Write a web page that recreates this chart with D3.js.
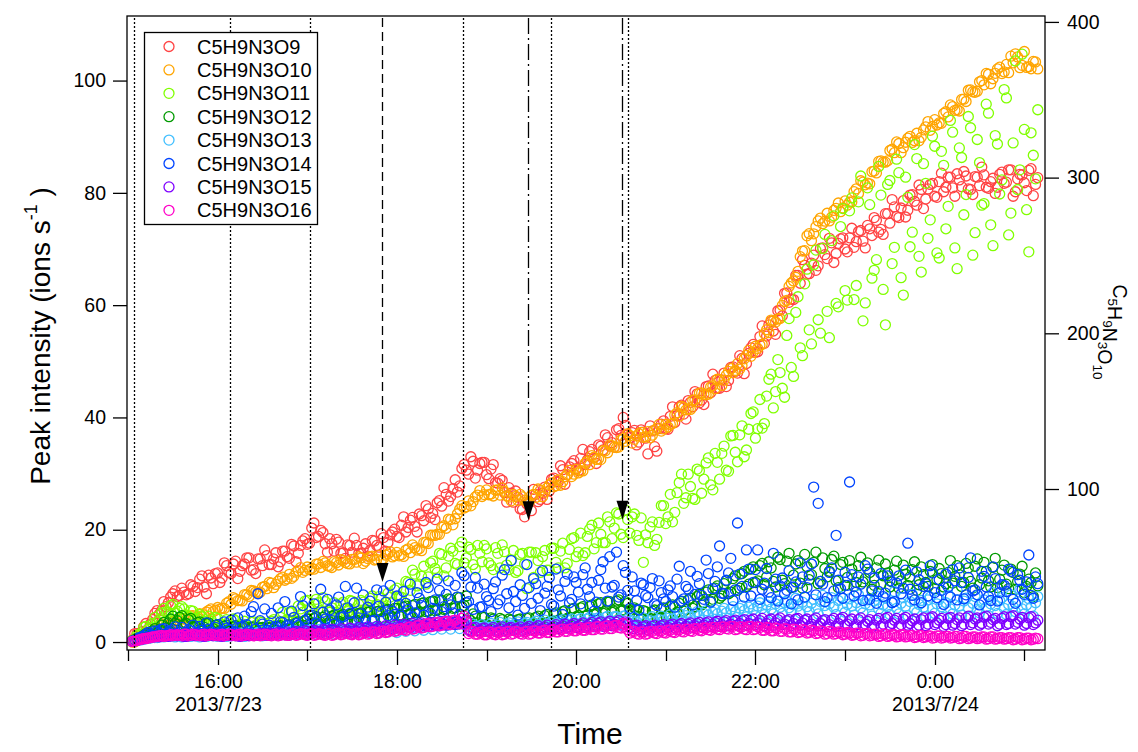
<!DOCTYPE html>
<html>
<head>
<meta charset="utf-8">
<script src="https://cdn.jsdelivr.net/npm/d3@7"></script>
<style>
  html, body { margin: 0; padding: 0; background: #fff; }
  svg { display: block; font-family: "Liberation Sans", Arial, sans-serif; }
</style>
</head>
<body>
<div id="chart"></div>
<script>
// readings every 3 minutes from 15:03 (arrays "a"), and the in-between readings 1.5 min later (arrays "b")
var startTime = new Date(2013, 6, 23, 15, 3);
var stepMinutes = 3;
var offsetMinutesB = 1.5;

var seriesNames = ["C5H9N3O9", "C5H9N3O10", "C5H9N3O11", "C5H9N3O12",
                   "C5H9N3O13", "C5H9N3O14", "C5H9N3O15", "C5H9N3O16"];

// C5H9N3O9, left axis (ions s-1)
var o9a = [0.4,1.5,1.8,3.3,3.2,5.1,5.0,7.2,7.0,8.6,
  8.1,9.6,8.4,10.2,9.0,11.2,9.8,11.9,10.4,12.3,
  11.4,13.6,12.2,14.4,12.6,13.9,15.0,12.9,14.8,13.6,
  15.4,13.8,15.9,14.3,16.2,14.9,17.1,15.8,18.0,17.4,
  20.3,18.6,19.9,17.5,18.4,16.2,17.8,15.9,17.3,16.0,
  17.2,15.8,17.5,16.3,18.0,16.9,18.6,17.7,19.6,18.8,
  20.8,19.6,21.7,20.6,22.8,21.6,23.7,22.9,24.8,24.2,
  26.3,25.9,28.9,27.8,31.6,29.9,32.2,30.6,32.0,29.8,
  30.8,28.4,29.1,26.6,27.5,24.9,25.8,23.6,24.6,23.4,
  26.3,25.4,27.6,26.9,29.2,28.5,30.7,29.8,31.8,30.9,
  32.7,31.6,33.9,32.8,35.1,34.2,36.4,35.5,37.8,36.8,
  38.6,36.4,37.7,35.6,37.4,33.5,37.6,34.0,38.8,38.0,
  40.2,39.1,41.9,40.6,43.0,41.9,44.2,43.1,45.5,44.4,
  46.6,45.2,47.9,46.6,49.0,47.9,50.5,49.6,52.4,51.6,
  54.4,53.2,56.5,55.4,59.0,58.1,62.2,61.1,65.3,63.9,
  67.1,65.6,68.9,67.0,70.2,68.3,71.1,69.2,71.8,70.0,
  72.0,70.3,73.1,71.4,74.2,72.4,75.1,73.5,76.3,74.6,
  77.5,75.6,78.6,76.9,79.7,77.8,80.6,78.9,81.5,79.4,
  82.0,80.2,82.8,80.9,83.4,81.1,83.0,80.6,82.9,81.3,
  83.2,80.8,82.6,81.0,83.7,81.9,84.1,80.2,83.3,81.8,
  84.0,79.5,82.7];
var o9b = [1.5,1.4,2.7,2.3,4.0,5.6,5.6,6.3,8.0,9.1,
  8.3,8.9,8.6,9.9,9.7,11.8,8.6,11.4,12.2,10.6,
  14.1,12.4,13.9,11.3,13.6,15.0,12.8,12.2,14.8,16.4,
  13.8,14.8,13.4,16.2,15.2,17.4,14.3,17.2,18.4,17.6,
  21.2,18.8,19.5,16.0,17.5,18.3,15.8,14.9,17.2,18.5,
  15.8,16.7,15.3,18.1,17.2,19.3,16.2,19.1,20.1,18.6,
  22.3,20.4,22.2,19.6,22.5,24.3,22.2,21.8,25.2,27.5,
  25.1,27.3,26.7,30.9,30.6,33.0,29.2,31.8,32.0,29.1,
  31.6,28.3,28.8,24.9,26.5,26.9,23.7,22.3,25.0,27.2,
  25.0,26.5,25.4,29.0,28.6,31.4,28.1,31.2,32.3,30.5,
  34.3,32.4,34.3,31.8,34.9,36.9,34.9,34.7,38.0,40.0,
  36.9,37.3,35.1,37.8,36.3,38.5,34.8,38.0,39.4,37.9,
  41.9,40.3,42.2,39.7,42.7,44.6,42.6,42.3,45.6,47.7,
  45.2,46.7,45.5,48.9,48.2,51.0,47.8,51.4,53.0,51.7,
  56.3,54.5,57.1,54.8,59.1,62.1,60.5,61.0,65.3,68.1,
  65.5,67.5,66.2,70.1,69.0,71.9,67.6,71.0,72.0,69.5,
  73.7,71.3,73.3,70.2,73.6,75.6,73.0,72.6,76.3,78.8,
  75.8,77.3,75.7,79.6,78.5,81.4,77.2,80.7,81.7,79.2,
  83.5,81.0,82.8,79.4,82.3,83.8,80.7,79.7,82.8,84.6,
  81.0,82.0,79.9,83.3,81.7,84.1,79.4,82.5,83.2,80.4,
  84.3,81.5];

// C5H9N3O10, right axis
var o10a = [1.6,4.1,4.5,7.3,7.5,10.4,10.3,12.9,12.2,14.8,
  14.2,16.7,15.8,18.5,17.3,19.9,19.1,22.0,21.2,23.9,
  23.4,26.7,26.0,29.5,28.5,32.2,31.0,34.5,33.5,36.9,
  36.0,39.6,38.7,42.4,41.4,45.2,43.9,47.6,46.5,49.9,
  49.1,51.8,49.6,52.5,50.4,53.4,51.2,54.0,52.1,54.8,
  53.0,55.7,53.6,56.5,54.4,57.4,55.3,58.2,56.4,59.3,
  57.8,60.8,59.1,62.3,61.6,65.7,65.0,70.4,71.0,75.3,
  74.8,80.4,80.9,87.0,87.8,92.4,91.9,96.1,95.2,99.4,
  96.8,99.2,96.1,98.4,94.8,96.5,92.7,94.9,91.8,95.9,
  94.6,99.1,98.0,102.5,101.4,105.8,104.7,109.2,108.0,112.6,
  111.7,116.5,115.6,120.4,119.5,124.6,123.3,127.9,126.6,131.6,
  130.6,134.2,131.9,135.5,133.2,136.9,134.6,138.9,137.2,141.6,
  141.5,147.6,146.8,152.3,151.4,157.0,156.0,161.7,160.5,165.6,
  164.4,170.3,169.8,175.6,174.7,180.5,179.3,185.8,185.2,191.7,
  192.4,199.8,200.5,208.0,209.2,217.9,221.1,232.3,236.0,249.2,
  253.1,264.0,263.9,272.2,270.4,277.1,274.6,280.3,278.1,285.0,
  284.2,291.0,289.8,297.1,296.5,303.8,303.0,310.7,309.9,317.4,
  316.0,321.9,319.2,325.3,322.6,328.5,325.9,332.6,330.4,337.2,
  335.1,341.2,339.0,345.6,343.6,350.2,348.9,356.3,354.8,361.5,
  359.6,366.4,363.5,369.8,366.8,372.7,378.0,379.5,370.6,381.0,
  371.2,374.6,369.8];
var o10b = [1.8,5.1,7.3,6.9,7.5,10.6,12.7,12.4,12.6,15.1,
  16.8,14.7,17.2,18.7,18.0,18.3,21.0,23.0,22.2,22.9,
  23.3,27.6,30.2,28.3,28.1,32.1,34.8,33.8,33.7,37.4,
  40.0,36.6,40.8,43.4,42.3,42.6,46.6,49.5,47.7,48.2,
  48.5,51.9,53.5,50.7,49.6,52.7,54.6,52.8,51.9,54.8,
  56.5,52.1,55.3,56.9,54.8,54.2,57.5,59.7,57.2,57.1,
  56.7,61.6,64.1,60.8,60.4,65.8,70.3,70.2,70.9,76.4,
  80.7,77.0,84.1,89.3,88.6,89.2,94.9,99.0,96.4,96.3,
  95.5,99.4,100.7,95.5,92.4,95.2,96.5,92.9,91.6,96.6,
  100.0,95.0,100.6,103.9,102.1,102.4,107.9,112.0,109.5,110.3,
  111.6,117.8,121.5,119.0,118.9,124.5,128.3,126.9,126.9,132.4,
  135.5,129.5,134.1,136.4,133.6,132.9,137.8,141.5,138.6,139.8,
  142.1,149.0,153.0,150.8,151.1,157.2,161.6,160.7,160.9,166.4,
  170.5,166.5,173.1,177.3,176.1,177.0,183.6,189.0,187.8,190.3,
  192.9,202.3,208.5,207.2,209.5,220.4,230.1,233.6,239.8,252.8,
  262.6,259.5,268.5,274.0,272.0,272.2,278.9,283.7,280.6,282.3,
  284.4,292.8,298.0,295.4,296.0,304.2,310.4,309.9,310.8,318.3,
  322.9,316.0,322.7,326.5,323.7,323.6,330.6,336.0,332.9,333.8,
  334.9,342.3,346.7,343.2,342.8,350.4,356.1,355.1,355.5,362.3,
  366.9,360.3,367.0,370.9,367.9,367.4,373.7,377.5,372.1,370.8,
  369.9,374.3];

// C5H9N3O11
var o11a = [0.3,1.2,1.3,2.8,2.6,4.4,4.0,6.0,5.3,6.7,
  5.5,6.3,4.8,5.6,4.1,4.9,3.7,4.6,3.4,4.2,
  3.1,4.0,2.9,3.8,2.7,3.7,2.6,3.6,2.5,3.5,
  2.6,3.7,3.0,4.4,3.6,5.3,4.3,6.4,5.3,7.4,
  5.8,7.6,5.6,7.2,5.3,7.0,5.2,7.1,5.4,7.3,
  5.5,7.4,5.7,7.8,6.0,8.1,6.4,8.7,7.0,9.6,
  8.0,10.8,9.2,12.1,10.3,13.5,11.6,14.4,12.4,15.6,
  13.2,16.7,14.0,17.0,14.1,16.9,13.8,17.2,14.3,16.6,
  13.6,16.8,13.2,16.1,12.9,16.3,12.7,15.8,9.5,16.0,
  15.9,12.4,16.3,12.8,16.7,13.2,17.6,14.0,18.4,15.2,
  19.4,15.9,20.1,16.6,21.2,17.7,22.3,18.4,23.0,19.2,
  23.5,19.4,22.8,18.1,14.2,17.7,21.4,18.3,24.3,21.1,
  26.3,23.1,28.4,24.7,29.9,25.6,30.8,26.5,31.9,28.0,
  33.6,29.0,34.9,30.4,36.8,32.1,38.5,34.2,40.7,36.3,
  43.2,38.9,46.8,41.7,50.3,45.2,54.6,48.9,58.7,52.4,
  63.8,55.6,67.2,57.4,70.1,58.9,71.5,60.3,74.0,62.6,
  76.8,61.0,78.4,57.2,80.9,64.8,68.1,79.6,56.5,82.2,
  70.3,83.6,61.8,79.2,73.0,86.1,65.9,81.7,75.2,88.3,
  68.4,84.9,77.6,90.8,66.5,86.3,79.7,91.6,72.9,85.4,
  78.1,94.2,70.6,88.7,82.3,96.9,76.4,103.5,84.1,91.3,
  69.5,86.7,94.8];
var o11b = [0.1,1.4,2.6,2.3,3.3,3.5,5.2,5.4,6.5,5.2,
  6.0,5.9,4.6,5.5,4.2,4.5,3.3,4.0,4.4,3.2,
  2.8,3.6,4.1,3.0,3.2,2.6,3.5,3.0,3.6,2.2,
  3.4,4.0,2.7,5.3,4.0,5.3,3.7,5.9,7.3,5.8,
  5.2,7.0,7.9,5.6,6.1,4.8,6.8,6.0,7.4,4.8,
  6.7,7.1,5.7,8.2,6.7,7.8,6.0,8.0,9.3,8.1,
  7.1,10.6,12.8,10.0,11.7,10.3,14.1,13.1,15.8,11.8,
  15.3,16.2,13.8,17.8,15.0,16.5,13.0,15.8,17.2,14.1,
  12.9,15.8,17.3,13.7,14.6,12.4,15.6,13.9,16.0,11.5,
  14.5,15.2,12.8,16.7,14.2,16.2,13.2,16.5,18.6,16.0,
  15.4,18.8,20.8,17.7,19.2,17.7,21.4,20.3,22.8,18.6,
  21.8,22.3,19.0,22.1,19.1,20.5,17.2,21.3,24.3,22.3,
  21.4,26.6,29.9,25.7,27.7,25.4,30.5,29.0,32.8,27.1,
  32.0,33.6,30.6,36.7,33.8,36.9,33.0,37.9,41.0,38.0,
  38.1,43.8,47.7,44.6,48.0,43.6,57.6,47.3,61.5,51.0,
  66.4,53.1,69.8,55.0,72.6,54.2,75.9,59.7,77.2,60.9,
  79.1,63.5,83.0,60.4,77.9,66.2,84.7,62.8,81.5,67.4,
  86.0,64.9,82.8,70.4,88.6,68.7,85.2,71.9,90.1,69.3,
  87.4,73.6,92.9,70.2,88.0,76.1,93.6,68.9,89.5,77.8,
  95.8,74.3,90.2,79.8,98.4,72.5,88.9,80.6,104.7,77.0,
  90.7,82.5];

// C5H9N3O12
var o12a = [0.2,0.7,0.9,1.5,1.5,2.4,2.2,3.5,3.4,4.6,
  3.8,4.7,3.3,4.2,2.9,3.6,2.6,3.4,2.4,3.1,
  2.2,3.0,2.0,2.9,1.9,2.8,1.8,2.7,1.8,2.6,
  1.8,2.7,2.0,2.9,2.2,3.1,2.6,3.6,3.0,4.1,
  3.4,4.5,3.5,4.7,3.6,4.8,3.7,4.9,3.8,5.1,
  3.9,5.2,4.0,5.4,4.1,5.5,4.3,5.8,4.5,6.0,
  4.8,6.4,5.0,6.7,5.3,7.0,5.5,7.3,5.7,7.4,
  5.9,7.6,6.1,7.9,6.5,4.2,5.0,3.4,4.5,3.1,
  4.3,3.0,4.2,2.9,4.1,2.8,4.0,3.0,4.2,3.2,
  4.4,3.3,4.7,3.6,5.0,3.9,5.4,4.2,5.8,4.5,
  6.1,4.6,6.4,4.9,6.8,5.1,7.1,5.3,7.3,5.5,
  7.2,5.6,6.1,4.5,5.6,4.1,5.5,4.3,5.9,4.6,
  6.3,5.0,6.9,5.5,7.5,6.0,8.1,6.6,8.9,7.3,
  9.6,7.8,10.4,8.6,11.3,9.2,12.2,9.9,13.0,10.6,
  13.6,10.2,14.3,10.8,15.1,11.0,14.4,9.7,13.9,10.5,
  15.6,11.1,14.2,10.4,15.0,11.6,14.7,10.9,13.8,10.1,
  14.5,9.9,13.6,10.7,14.1,9.4,13.2,10.3,13.9,9.8,
  12.8,9.6,13.7,10.1,12.9,9.2,13.4,10.6,12.6,9.5,
  13.1,9.8,12.4,10.5,13.6,9.9,14.0,10.8,13.5,10.2,
  14.2,10.9,13.3,9.7,12.8,10.3,13.0,9.4,12.1,8.8,
  11.2,8.1,10.0];
var o12b = [0.4,0.6,1.2,1.0,2.0,1.6,3.0,2.5,4.1,3.3,
  4.4,3.2,4.0,2.7,3.5,2.4,3.3,2.2,3.0,2.0,
  2.8,1.9,2.7,1.7,2.6,1.6,2.6,1.7,2.5,1.7,
  2.5,1.9,2.8,2.1,3.0,2.4,3.4,2.8,3.8,3.3,
  4.2,3.2,4.4,3.3,4.6,3.5,4.7,3.6,4.9,3.7,
  5.1,3.8,5.3,3.9,5.4,4.1,5.7,4.3,6.0,4.7,
  6.2,4.9,6.5,5.2,6.9,5.4,7.2,5.6,7.5,5.8,
  7.7,6.0,8.0,6.3,8.2,3.8,4.6,3.1,4.4,2.9,
  4.1,2.8,4.0,2.7,3.9,2.9,4.1,3.1,4.3,3.4,
  4.6,3.5,4.9,3.8,5.2,4.1,5.6,4.4,6.0,4.7,
  6.3,4.8,6.6,5.0,7.0,5.2,7.2,5.4,7.5,5.7,
  6.9,5.0,5.8,4.3,5.4,4.2,5.7,4.4,6.1,4.9,
  6.6,5.3,7.2,5.8,7.8,6.3,8.5,7.0,9.3,7.6,
  10.0,8.2,10.9,8.9,11.8,9.6,12.6,10.3,13.4,10.9,
  14.0,11.6,13.2,9.8,14.7,10.4,15.8,11.9,14.5,9.6,
  13.4,12.0,16.0,10.8,13.1,12.6,15.3,9.7,14.2,11.5,
  13.0,10.6,15.1,11.3,12.4,10.1,14.6,11.8,12.3,10.7,
  14.4,10.9,12.1,11.6,14.3,10.2,12.0,9.9,13.8,11.1,
  12.2,10.4,14.5,11.7,12.0,10.6,13.2,9.6,14.8,11.4,
  12.6,9.8,14.9,11.2,13.7,9.5,12.4,10.8,13.5,9.9,
  10.6,12.3];

// C5H9N3O13
var o13a = [0.1,0.3,0.4,0.6,0.7,0.8,1.0,0.9,1.2,1.0,
  1.3,0.9,1.4,1.0,1.5,0.9,1.4,1.1,1.6,1.0,
  1.5,1.0,1.7,1.1,1.6,1.0,1.8,1.2,1.7,1.1,
  1.9,1.2,1.8,1.3,2.0,1.2,2.1,1.4,2.2,1.3,
  2.1,1.4,2.3,1.5,2.2,1.4,2.4,1.6,2.3,1.5,
  2.5,1.6,2.4,1.7,2.6,1.6,2.5,1.8,2.7,1.7,
  2.8,1.9,3.0,2.0,3.1,2.1,3.3,2.2,3.4,2.3,
  3.5,2.3,3.6,2.4,3.4,2.1,3.2,2.0,3.1,2.2,
  3.3,2.1,3.5,2.2,3.4,2.3,3.6,2.2,3.5,2.4,
  3.7,2.5,3.9,2.6,3.8,2.4,4.0,2.7,4.1,2.6,
  4.2,2.8,4.4,2.9,4.3,3.0,4.6,3.1,4.5,3.2,
  4.7,3.3,4.4,2.9,4.3,2.8,4.5,3.0,4.6,3.1,
  4.9,3.3,5.1,3.5,5.3,3.6,5.4,3.8,5.6,3.9,
  5.8,4.0,6.0,4.2,6.3,4.4,6.5,4.5,6.8,4.7,
  7.0,4.9,7.2,5.0,7.5,5.1,7.3,5.3,7.8,5.2,
  8.0,5.4,7.6,5.0,8.3,5.5,7.9,4.9,8.1,5.3,
  7.7,4.8,8.4,5.2,7.5,4.6,8.2,5.1,7.8,4.9,
  9.0,5.0,7.9,4.7,8.5,5.3,7.4,4.5,8.0,5.1,
  7.6,4.4,8.3,5.0,9.2,4.8,7.8,4.6,8.1,5.2,
  7.5,4.7,8.8,5.1,7.9,4.9,8.4,5.4,9.4,5.0,
  7.7,4.6,8.1];
var o13b = [0.2,0.4,0.5,0.7,0.9,0.8,1.1,1.0,1.3,0.9,
  1.2,1.4,1.0,1.3,1.1,1.5,1.0,1.4,1.2,1.5,
  1.1,1.6,1.2,1.5,1.1,1.7,1.3,1.6,1.2,1.8,
  1.4,1.7,1.3,1.9,1.5,2.0,1.6,1.9,1.7,2.1,
  1.6,2.2,1.7,2.1,1.8,2.3,1.9,2.2,1.8,2.4,
  2.0,2.3,1.9,2.5,2.1,2.4,2.2,2.6,2.3,2.8,
  2.4,2.9,2.5,3.1,2.6,3.2,2.8,3.4,2.9,3.5,
  3.0,3.6,3.1,3.5,2.9,2.6,2.8,2.5,2.7,2.6,
  2.8,3.0,2.7,3.1,2.9,3.2,2.8,3.3,3.0,3.4,
  3.1,3.5,3.2,3.6,3.3,3.7,3.4,3.8,3.5,4.0,
  3.6,4.1,3.7,4.2,3.8,4.4,3.9,4.5,4.0,4.6,
  4.1,3.8,3.6,3.9,3.5,3.8,3.7,4.0,3.9,4.2,
  4.1,4.5,4.3,4.7,4.5,4.9,4.6,5.1,4.8,5.3,
  5.0,5.5,5.2,5.8,5.4,6.0,5.6,6.2,5.8,6.4,
  6.0,6.6,5.9,6.8,6.2,7.0,6.1,6.7,6.4,7.1,
  6.3,6.9,6.0,7.2,6.5,6.8,6.2,7.4,6.1,6.7,
  6.4,7.0,6.1,6.8,6.6,7.3,5.9,6.6,6.3,7.1,
  6.0,6.9,6.4,7.2,5.8,6.7,6.2,7.5,6.0,6.8,
  6.3,7.0,5.9,6.6,6.4,7.3,6.1,6.9,5.8,7.1,
  6.2,6.8,6.5,7.4,6.0,6.7,6.3,7.2,5.9,6.6,
  6.2,7.0];

// C5H9N3O14
var o14a = [0.2,0.5,0.9,1.4,1.3,2.0,1.6,2.4,1.8,2.2,
  1.5,2.6,1.7,2.0,1.4,2.8,1.6,2.3,1.5,3.1,
  1.7,2.5,3.9,1.8,2.6,4.6,2.0,6.3,8.6,3.2,
  2.1,5.1,2.8,3.6,7.2,2.5,4.4,3.0,6.5,2.7,
  4.8,3.3,9.4,4.1,5.7,3.2,8.0,4.5,6.1,3.6,
  9.6,5.0,4.2,7.3,3.9,6.4,9.1,4.7,5.5,8.2,
  4.6,6.9,10.3,5.2,7.8,4.8,9.7,6.0,11.2,5.4,
  8.5,6.6,10.1,4.9,11.8,7.2,5.8,9.6,6.3,8.1,
  5.4,10.7,7.5,12.9,6.1,9.0,4.8,8.3,13.8,6.9,
  10.4,5.6,8.7,11.5,6.4,9.3,4.9,12.1,7.6,10.6,
  6.8,13.2,8.1,5.5,11.0,14.3,7.3,9.8,16.0,8.4,
  12.4,6.0,9.1,5.7,10.2,7.9,11.3,6.5,8.8,7.2,
  10.0,6.2,13.5,7.7,9.4,6.6,11.7,8.3,14.6,7.1,
  10.8,17.1,8.6,12.3,7.4,21.2,9.9,16.4,8.2,12.9,
  7.6,10.5,8.9,15.8,7.3,11.4,9.2,6.8,10.7,14.1,
  8.0,11.9,27.6,24.7,10.3,7.9,13.2,19.0,9.5,12.4,
  28.5,8.2,11.6,7.4,13.0,9.1,6.9,12.2,8.7,10.9,
  7.2,11.8,9.6,17.6,8.3,12.5,7.0,10.4,13.6,8.8,
  11.1,6.7,9.8,12.9,7.5,10.6,8.4,15.0,9.3,6.6,
  11.7,8.1,13.4,7.3,10.2,9.0,12.6,6.9,11.0,8.5,
  15.5,7.8,10.4];
var o14b = [0.3,0.8,1.1,1.7,1.2,1.9,2.3,1.4,2.0,2.7,
  1.8,1.3,2.2,3.0,1.7,2.1,3.4,1.9,2.6,1.8,
  3.6,2.2,1.9,4.3,2.7,3.1,5.4,2.3,3.8,5.9,
  3.0,2.4,6.1,3.5,2.9,5.5,3.3,8.1,3.9,4.7,
  6.8,2.9,5.3,7.6,3.8,6.6,4.4,9.9,5.1,7.0,
  4.3,8.4,6.2,3.7,9.3,5.4,7.1,10.1,4.9,6.7,
  9.0,5.8,4.5,8.8,6.5,10.6,5.1,7.5,9.2,6.3,
  10.9,5.2,8.0,12.4,7.0,9.8,11.5,6.2,10.3,7.4,
  9.5,6.8,11.9,8.6,14.5,7.2,10.2,6.0,9.7,11.3,
  7.8,12.7,9.9,6.7,13.0,8.2,10.8,7.0,11.6,8.9,
  12.0,9.4,10.6,7.1,12.9,9.6,15.2,10.1,8.0,13.6,
  9.2,11.6,7.4,10.5,8.3,9.7,6.8,10.9,7.7,9.3,
  8.1,11.2,7.3,9.9,12.6,8.5,10.4,7.6,12.2,9.5,
  13.4,8.7,11.0,14.9,9.3,12.1,8.0,13.0,10.6,16.4,
  9.4,13.1,7.9,11.2,10.0,8.6,12.7,9.8,7.5,11.6,
  9.7,13.9,8.4,10.8,7.2,12.4,9.1,11.0,7.8,10.1,
  12.0,8.9,10.3,13.6,7.6,11.4,9.0,8.1,11.8,7.0,
  10.5,8.6,12.8,9.4,7.5,11.1,9.9,8.2,12.3,7.9,
  9.2,12.1,8.0,10.9,13.2,7.7,11.5,9.1,8.4,12.6,
  9.8,7.4,11.3,8.8,10.1,13.0,7.6,12.0,9.4,10.7,
  8.3,11.6];

// C5H9N3O15
var o15a = [0.1,0.3,0.5,0.7,0.8,1.0,0.9,1.2,1.0,1.3,
  1.1,1.3,1.0,1.4,1.1,1.3,1.0,1.4,1.1,1.3,
  1.0,1.4,1.1,1.3,1.0,1.4,1.1,1.3,1.2,1.5,
  1.2,1.5,1.3,1.6,1.3,1.6,1.4,1.8,1.5,1.9,
  1.6,2.0,1.7,2.1,1.6,2.0,1.7,2.2,1.8,2.2,
  1.9,2.3,2.0,2.4,2.1,2.5,2.2,2.6,2.3,2.7,
  2.5,2.9,2.6,3.0,2.7,3.1,2.8,3.2,2.9,3.3,
  3.0,3.4,3.1,3.5,3.2,2.2,2.5,2.0,2.4,1.9,
  2.3,1.9,2.4,2.0,2.5,2.1,2.4,2.0,2.5,2.2,
  2.6,2.2,2.7,2.3,2.8,2.4,2.9,2.5,3.0,2.6,
  3.1,2.6,3.2,2.7,3.3,2.8,3.4,2.9,3.5,3.0,
  3.6,2.6,2.9,2.2,2.7,2.1,2.8,2.3,2.9,2.4,
  3.0,2.5,3.1,2.5,3.2,2.6,3.3,2.7,3.4,2.8,
  3.5,2.8,3.6,2.9,3.7,3.0,3.8,3.0,3.9,3.1,
  3.8,2.9,3.9,3.0,4.0,3.1,3.8,2.9,4.1,3.0,
  3.9,2.8,4.0,2.9,3.8,2.7,3.9,2.8,4.1,3.0,
  3.8,2.7,4.0,2.9,3.7,2.6,3.9,2.8,4.2,3.0,
  3.9,2.8,4.1,3.0,3.8,2.7,4.0,2.9,4.3,3.1,
  3.9,2.8,4.2,3.0,4.0,2.9,4.3,3.1,4.1,3.0,
  4.4,3.2,4.0,2.9,4.2,3.1,4.5,3.2,4.1,3.0,
  4.3,3.1,3.9];
var o15b = [0.2,0.4,0.6,0.8,0.9,1.1,1.0,1.2,1.1,1.4,
  1.2,1.0,1.3,1.2,1.4,1.1,1.3,1.2,1.4,1.1,
  1.3,1.2,1.4,1.1,1.3,1.2,1.4,1.3,1.5,1.3,
  1.6,1.4,1.7,1.4,1.8,1.5,1.9,1.6,2.0,1.7,
  2.1,1.8,2.2,1.8,2.3,1.9,2.4,2.0,2.5,2.0,
  2.6,2.1,2.7,2.2,2.8,2.3,2.9,2.4,3.0,2.6,
  3.2,2.7,3.3,2.8,3.4,2.9,3.5,3.0,3.6,3.1,
  3.7,3.2,3.8,3.3,3.9,2.0,2.6,2.1,2.5,2.0,
  2.6,2.1,2.7,2.2,2.6,2.3,2.7,2.3,2.8,2.4,
  2.9,2.4,3.0,2.5,3.1,2.6,3.2,2.7,3.3,2.8,
  3.4,2.9,3.5,3.0,3.6,3.1,3.7,3.2,3.8,3.3,
  3.4,2.4,3.0,2.3,2.9,2.4,3.0,2.5,3.1,2.6,
  3.2,2.7,3.3,2.8,3.4,2.9,3.5,3.0,3.6,3.1,
  3.7,3.1,3.8,3.2,3.9,3.3,4.0,3.3,4.1,3.4,
  4.2,3.3,4.1,3.4,4.3,3.2,4.0,3.3,4.2,3.4,
  4.1,3.2,4.3,3.3,4.0,3.1,4.2,3.3,4.4,3.2,
  4.1,3.1,4.3,3.2,4.0,3.0,4.2,3.2,4.4,3.3,
  4.2,3.1,4.4,3.3,4.1,3.0,4.3,3.2,4.5,3.4,
  4.2,3.1,4.4,3.3,4.3,3.2,4.6,3.4,4.3,3.3,
  4.6,3.5,4.2,3.2,4.5,3.3,4.7,3.5,4.4,3.3,
  4.5,3.4];

// C5H9N3O16
var o16a = [0.1,0.3,0.5,0.6,0.8,0.9,1.1,1.0,1.2,1.1,
  1.3,1.1,1.4,1.2,1.3,1.1,1.4,1.2,1.3,1.1,
  1.4,1.2,1.3,1.1,1.4,1.2,1.3,1.1,1.4,1.2,
  1.3,1.1,1.4,1.2,1.3,1.2,1.5,1.3,1.4,1.2,
  1.5,1.3,1.4,1.2,1.5,1.3,1.6,1.4,1.5,1.3,
  1.6,1.4,1.7,1.5,1.8,1.6,2.0,1.8,2.2,2.0,
  2.4,2.1,2.7,2.4,3.0,2.6,3.3,2.8,3.5,3.0,
  3.7,3.1,3.9,3.2,4.6,1.5,1.9,1.4,1.8,1.3,
  1.7,1.3,1.8,1.4,1.9,1.5,1.8,1.4,1.9,1.5,
  2.0,1.6,2.1,1.7,2.2,1.8,2.3,1.9,2.4,2.0,
  2.5,2.1,2.6,2.2,2.8,2.3,2.9,2.4,3.0,2.5,
  3.1,1.6,1.9,1.4,1.8,1.5,1.9,1.5,2.0,1.6,
  2.1,1.7,2.2,1.8,2.3,1.9,2.4,2.0,2.5,2.1,
  2.6,2.2,2.7,2.3,2.8,2.3,2.7,2.2,2.8,2.3,
  2.6,2.1,2.5,2.0,2.4,1.9,2.3,1.8,2.2,1.8,
  2.1,1.7,2.0,1.6,1.9,1.5,1.8,1.5,1.7,1.4,
  1.6,1.3,1.6,1.2,1.5,1.2,1.4,1.1,1.4,1.1,
  1.3,1.0,1.3,1.0,1.2,0.9,1.2,0.9,1.1,0.8,
  1.1,0.8,1.0,0.8,1.0,0.7,1.0,0.7,0.9,0.7,
  0.9,0.6,0.9,0.6,0.8,0.6,0.8,0.5,0.8,0.5,
  0.7,0.5,0.6];
var o16b = [0.2,0.4,0.6,0.7,0.9,1.0,1.2,1.1,1.3,1.2,
  1.2,1.4,1.1,1.4,1.2,1.3,1.1,1.4,1.2,1.3,
  1.1,1.4,1.2,1.3,1.1,1.4,1.2,1.3,1.1,1.4,
  1.2,1.3,1.1,1.4,1.2,1.4,1.2,1.5,1.3,1.4,
  1.2,1.5,1.3,1.4,1.2,1.5,1.3,1.6,1.4,1.5,
  1.3,1.7,1.4,1.8,1.5,1.9,1.7,2.1,1.9,2.3,
  2.2,2.6,2.3,2.9,2.5,3.2,2.7,3.4,2.9,3.6,
  3.2,3.8,3.4,4.2,3.6,1.8,1.4,1.7,1.3,1.8,
  1.4,1.7,1.3,1.8,1.4,1.9,1.5,1.8,1.4,2.0,
  1.6,2.0,1.7,2.1,1.8,2.2,1.9,2.3,2.0,2.4,
  2.1,2.5,2.2,2.7,2.3,2.8,2.4,2.9,2.6,3.3,
  2.2,1.9,1.5,1.8,1.4,1.9,1.6,2.0,1.7,2.1,
  1.8,2.2,1.9,2.3,2.0,2.4,2.1,2.5,2.2,2.6,
  2.3,2.7,2.4,2.8,2.2,2.7,2.3,2.8,2.2,2.7,
  2.1,2.6,2.0,2.5,1.9,2.4,1.8,2.3,1.7,2.2,
  1.6,2.1,1.5,2.0,1.4,1.9,1.4,1.8,1.3,1.7,
  1.2,1.6,1.1,1.5,1.1,1.4,1.0,1.4,1.0,1.3,
  0.9,1.3,0.9,1.2,0.8,1.2,0.8,1.1,0.7,1.1,
  0.7,1.0,0.7,1.0,0.6,1.0,0.6,0.9,0.6,0.9,
  0.5,0.9,0.5,0.8,0.5,0.8,0.4,0.8,0.4,0.7,
  0.4,0.7];

// event lines: time, kind, arrow tip (left axis units, null = full height line)
var eventTimes = ["2013-07-23 15:04", "2013-07-23 16:08", "2013-07-23 17:02",
                  "2013-07-23 17:50", "2013-07-23 18:44", "2013-07-23 19:28",
                  "2013-07-23 19:43", "2013-07-23 20:31", "2013-07-23 20:35"];
var eventKinds = ["dot", "dot", "dot", "dash", "dot", "dashdot", "dot", "dashdot", "dot"];
var eventArrows = [null, null, null, 10.7, null, 21.7, null, 21.8, null];

var leftTicks = [0, 20, 40, 60, 80, 100];
var rightTicks = [100, 200, 300, 400];

(function () {
    'use strict';

    var W = 1138, H = 752;
    var margin = { left: 127, right: 1045, top: 16, bottom: 650 };
    var colors = ["#ff4343", "#ffa500", "#80ff00", "#009a00",
                  "#40bfff", "#0044ff", "#7f00ff", "#ff00c8"];
    var seriesA = [o9a, o10a, o11a, o12a, o13a, o14a, o15a, o16a];
    var seriesB = [o9b, o10b, o11b, o12b, o13b, o14b, o15b, o16b];
    var parseT = d3.timeParse("%Y-%m-%d %H:%M");
    var fontFam = "Liberation Sans, Arial, sans-serif";

    var svg = d3.select("#chart").append("svg")
        .attr("width", W).attr("height", H);

    var x = d3.scaleTime()
        .domain([new Date(2013, 6, 23, 14, 59, 20), new Date(2013, 6, 24, 1, 13, 50)])
        .range([margin.left, margin.right]);
    var yL = d3.scaleLinear().domain([-1.42, 111.5]).range([margin.bottom, margin.top]);
    var yR = d3.scaleLinear().domain([-3.4, 403.8]).range([margin.bottom, margin.top]);

    function timeAt(i, offset) {
        return new Date(startTime.getTime() + (i * stepMinutes + offset) * 60000);
    }

    svg.append("clipPath").attr("id", "plotclip").append("rect")
        .attr("x", margin.left).attr("y", margin.top)
        .attr("width", margin.right - margin.left)
        .attr("height", margin.bottom - margin.top);

    var plot = svg.append("g").attr("clip-path", "url(#plotclip)");

    seriesA.forEach(function (vals, k) {
        var yScale = (k === 1) ? yR : yL;
        var pts = vals.map(function (v, i) { return { t: timeAt(i, 0), v: v }; })
            .concat(seriesB[k].map(function (v, i) { return { t: timeAt(i, offsetMinutesB), v: v }; }));
        pts.sort(function (a, b) { return a.t - b.t; });
        plot.append("g")
            .selectAll("circle")
            .data(pts)
            .enter().append("circle")
            .attr("cx", function (d) { return x(d.t); })
            .attr("cy", function (d) { return yScale(d.v); })
            .attr("r", 5)
            .attr("fill", "none")
            .attr("stroke", colors[k])
            .attr("stroke-width", 1.3);
    });

    // event lines
    var dashes = { dot: "2,2", dash: "9,5", dashdot: "16,4,2,4" };
    eventTimes.forEach(function (t, i) {
        var ex = Math.round(x(parseT(t))) + 0.5;
        var yEnd = eventArrows[i] === null ? margin.bottom : yL(eventArrows[i]) - 18;
        svg.append("line")
            .attr("x1", ex).attr("x2", ex)
            .attr("y1", margin.top + 2).attr("y2", yEnd)
            .attr("stroke", "#000")
            .attr("stroke-width", 1.3)
            .attr("stroke-dasharray", dashes[eventKinds[i]]);
        if (eventArrows[i] !== null) {
            var tip = yL(eventArrows[i]);
            svg.append("path")
                .attr("d", "M" + (ex - 6) + "," + (tip - 19) + "L" + (ex + 6) + "," + (tip - 19) + "L" + ex + "," + tip + "Z")
                .attr("fill", "#000");
        }
    });

    // frame
    svg.append("rect")
        .attr("x", margin.left).attr("y", margin.top)
        .attr("width", margin.right - margin.left)
        .attr("height", margin.bottom - margin.top)
        .attr("fill", "none").attr("stroke", "#000").attr("stroke-width", 1.3);

    // left axis
    var gl = svg.append("g").attr("transform", "translate(" + margin.left + ",0)")
        .call(d3.axisLeft(yL).tickValues(leftTicks).tickSize(14).tickPadding(7));
    gl.select(".domain").remove();
    gl.selectAll("line").attr("stroke-width", 1.3);
    gl.selectAll("text").attr("font-size", 19.5).attr("font-family", fontFam);

    // right axis
    var gr = svg.append("g").attr("transform", "translate(" + margin.right + ",0)")
        .call(d3.axisRight(yR).tickValues(rightTicks).tickSize(14).tickPadding(8));
    gr.select(".domain").remove();
    gr.selectAll("line").attr("stroke-width", 1.3);
    gr.selectAll("text").attr("font-size", 19.5).attr("font-family", fontFam);

    // bottom axis: hourly ticks, labels every two hours
    var hours = d3.timeHour.range(new Date(2013, 6, 23, 15, 0), new Date(2013, 6, 24, 1, 30));
    var gb = svg.append("g").attr("font-family", fontFam);
    hours.forEach(function (h) {
        var hx = Math.round(x(h)) + 0.5;
        var major = h.getHours() % 2 === 0;
        gb.append("line")
            .attr("x1", hx).attr("x2", hx)
            .attr("y1", margin.bottom).attr("y2", margin.bottom + (major ? 15 : 11))
            .attr("stroke", "#000").attr("stroke-width", 1.3);
        if (major) {
            gb.append("text")
                .attr("x", hx).attr("y", 688)
                .attr("text-anchor", "middle")
                .attr("font-size", 19.5)
                .text(d3.timeFormat("%-H:%M")(h));
            if (h.getHours() === 16 || h.getHours() === 0) {
                gb.append("text")
                    .attr("x", hx).attr("y", 711)
                    .attr("text-anchor", "middle")
                    .attr("font-size", 19.5)
                    .text(d3.timeFormat("%Y/%-m/%-d")(h));
            }
        }
    });

    // titles
    svg.append("text")
        .attr("x", 590).attr("y", 744)
        .attr("text-anchor", "middle")
        .attr("font-size", 30)
        .text("Time");

    var lt = svg.append("text")
        .attr("transform", "translate(50,336) rotate(-90)")
        .attr("text-anchor", "middle")
        .attr("font-size", 28);
    lt.append("tspan").text("Peak intensity (ions s");
    lt.append("tspan").attr("font-size", 18).attr("dy", -13).text("-1");
    lt.append("tspan").attr("dy", 13).text(" )");

    var rt = svg.append("text")
        .attr("transform", "translate(1113,332) rotate(90)")
        .attr("text-anchor", "middle")
        .attr("font-size", 19.5);
    [["C", "5"], ["H", "9"], ["N", "3"], ["O", "10"]].forEach(function (p) {
        rt.append("tspan").text(p[0]);
        rt.append("tspan").attr("font-size", 13.5).attr("dy", 5).text(p[1]);
        rt.append("tspan").attr("dy", -5).text("");
    });

    // legend
    var lg = svg.append("g").attr("font-family", fontFam);
    lg.append("rect")
        .attr("x", 144.5).attr("y", 32.5).attr("width", 173).attr("height", 192)
        .attr("fill", "#fff").attr("stroke", "#000").attr("stroke-width", 1.3);
    seriesNames.forEach(function (name, k) {
        var ly = 46.5 + k * 23.4;
        lg.append("circle")
            .attr("cx", 169).attr("cy", ly).attr("r", 5)
            .attr("fill", "none").attr("stroke", colors[k]).attr("stroke-width", 1.3);
        lg.append("text")
            .attr("x", 197).attr("y", ly + 7)
            .attr("font-size", 20)
            .text(name);
    });
})();
</script>
</body>
</html>
